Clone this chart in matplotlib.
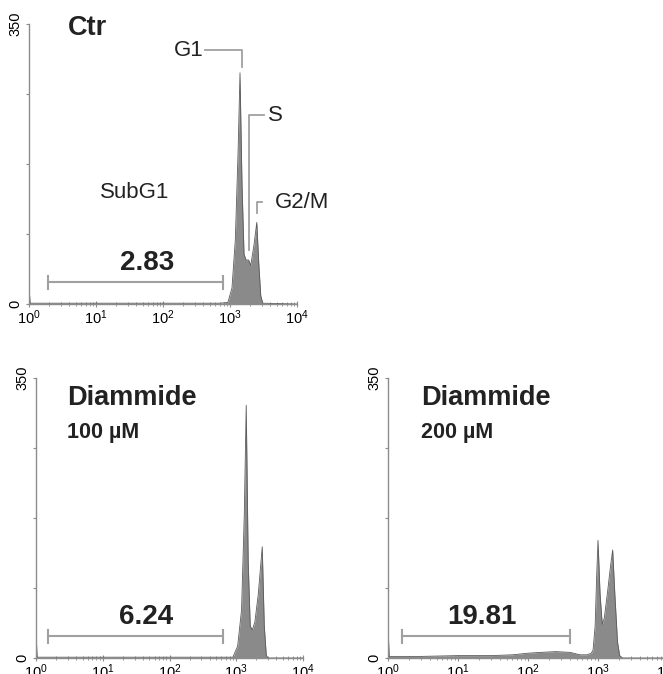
"""
Cell cycle DNA histograms: control vs diammide treatment.
"""
import matplotlib
matplotlib.use("Agg")
import matplotlib.pyplot as plt

plt.rcParams["font.family"] = ["Liberation Sans", "DejaVu Sans"]

# fluorescence channel (log scale) and event counts
ctr_x = [1.0, 1.04, 1.5, 3, 10, 30, 100, 300, 700, 930, 1070, 1200, 1320, 1410,
         1510, 1620, 1740, 1900, 2040, 2290, 2510, 2690, 2880, 3090, 10000]
ctr_y = [21, 1, 1, 1, 1, 1, 1, 1, 1, 2, 20, 80, 190, 289,
         150, 62, 55, 55, 48, 75, 102, 50, 10, 1, 0]

d100_x = [1.0, 1.04, 1.5, 3, 10, 30, 100, 300, 600, 890, 1050, 1200, 1320, 1410,
          1510, 1620, 1740, 1900, 2140, 2450, 2630, 2820, 3020, 10000]
d100_y = [31, 1, 1, 1, 1, 1, 1, 1, 1, 1, 15, 60, 180, 316,
          120, 40, 35, 45, 80, 139, 40, 3, 0, 0]

d200_x = [1.0, 1.04, 3, 10, 30, 60, 100, 150, 250, 400, 550, 700, 800, 850, 910,
          955, 1000, 1070, 1150, 1230, 1380, 1510, 1620, 1740, 1900, 2040, 2240, 10000]
d200_y = [39, 2, 2, 3, 3, 4, 6, 7, 8, 7, 4, 4, 6, 10, 40,
          100, 147, 80, 42, 50, 85, 115, 135, 80, 20, 3, 0, 0]

# SubG1 gate (start, end), its percentage and where the number sits
gates = [(1.9, 790), (1.5, 640), (1.6, 400)]
subg1_pct = ["2.83", "6.24", "19.81"]
pct_x = [58, 45, 22]
titles = [("Ctr", None), ("Diammide", "100 µM"), ("Diammide", "200 µM")]

FILL = "#8a8a8a"
EDGE = "#5a5a5a"
AXC = "#8c8c8c"
ANN = "#a0a0a0"
TXT = "#222222"

fig = plt.figure(figsize=(6.63, 6.74), dpi=100)
W, H = 663, 674


def make_ax(left, top, width, height=280):
    return fig.add_axes([left / W, 1 - (top + height) / H, width / W, height / H])


axes = [make_ax(29, 24, 268), make_ax(36, 378, 267), make_ax(388, 378, 280)]
data = [(ctr_x, ctr_y), (d100_x, d100_y), (d200_x, d200_y)]

for ax, (xs, ys), gate, pct, px, (t1, t2) in zip(axes, data, gates, subg1_pct,
                                                  pct_x, titles):
    ax.fill_between(xs, ys, 0, color=FILL, lw=0)
    ax.plot(xs, ys, color=EDGE, lw=0.6)
    ax.set_xscale("log")
    ax.set_xlim(1, 10000)
    ax.set_ylim(0, 350)
    for s in ["top", "right"]:
        ax.spines[s].set_visible(False)
    for s in ["left", "bottom"]:
        ax.spines[s].set_color(AXC)
        ax.spines[s].set_linewidth(1.0)
    ax.set_xticks([1, 10, 100, 1000, 10000])
    ax.set_xticklabels([r"$\mathregular{10^{%d}}$" % i for i in range(5)])
    ax.tick_params(axis="x", which="major", direction="inout", length=4,
                   color=AXC, labelsize=10.5, pad=1.5)
    ax.tick_params(axis="x", which="minor", direction="inout", length=2.5, color=AXC)
    ax.set_yticks([0, 87.5, 175, 262.5, 350])
    ax.set_yticklabels(["0", "", "", "", "350"], rotation=90, va="center")
    ax.tick_params(axis="y", direction="out", length=2, color=AXC,
                   labelsize=10.5, pad=2.5)

    # SubG1 gate bracket
    g0, g1 = gate
    yb = 27
    ax.plot([g0, g1], [yb, yb], color=ANN, lw=1.5)
    ax.plot([g0, g0], [yb - 8, yb + 8], color=ANN, lw=1.5)
    ax.plot([g1, g1], [yb - 8, yb + 8], color=ANN, lw=1.5)
    ax.text(px, 51, pct, ha="center", va="center", fontsize=20,
            fontweight="bold", color=TXT)

    if t2 is None:
        ax.text(3.8, 345, t1, ha="left", va="center", fontsize=19.5,
                fontweight="bold", color=TXT, clip_on=False)
    else:
        ax.text(2.95, 325, t1, ha="left", va="center", fontsize=19.5,
                fontweight="bold", color=TXT)
        ax.text(2.95, 282, t2, ha="left", va="center", fontsize=15.5,
                fontweight="bold", color=TXT)

# phase labels on the control histogram
ax = axes[0]
ax.text(38, 139, "SubG1", ha="center", va="center", fontsize=16, color=TXT)
ax.plot([430, 1500, 1500], [317, 317, 296], color=ANN, lw=1.3)
ax.text(400, 317, "G1", ha="right", va="center", fontsize=16, color=TXT)
ax.plot([3250, 1920, 1920], [236, 236, 67], color=ANN, lw=1.3)
ax.text(3700, 236, "S", ha="left", va="center", fontsize=16, color=TXT,
        clip_on=False)
ax.plot([3000, 2530, 2530], [127, 127, 114], color=ANN, lw=1.3)
ax.text(4600, 127, "G2/M", ha="left", va="center", fontsize=16, color=TXT,
        clip_on=False)

fig.savefig("out.png", dpi=100)
